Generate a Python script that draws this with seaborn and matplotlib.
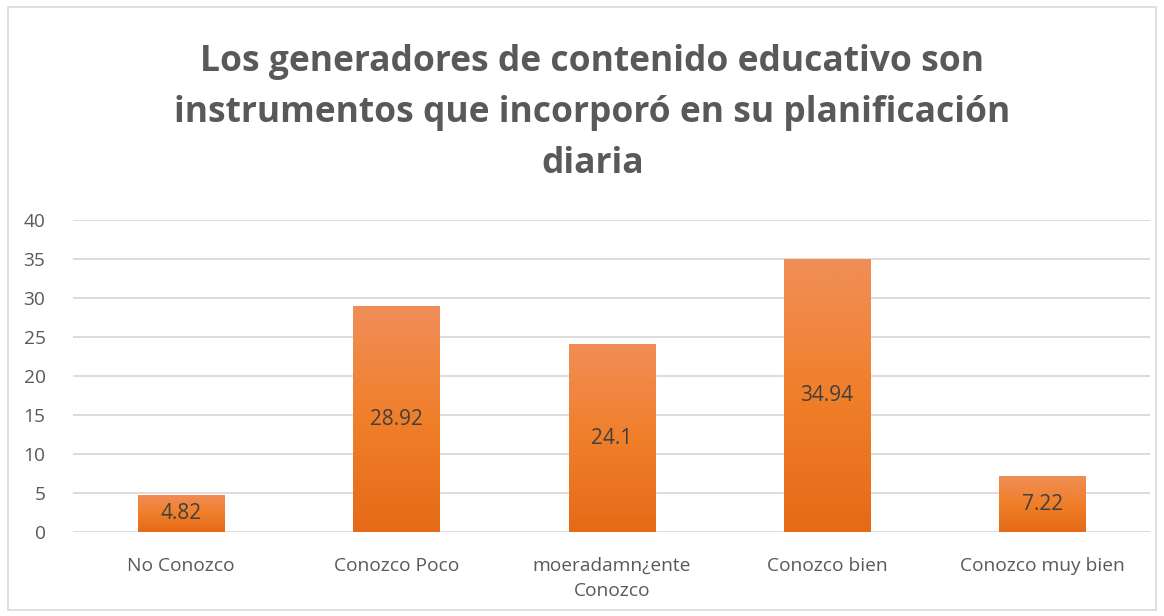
import numpy as np
import pandas as pd
import seaborn as sns
import matplotlib.pyplot as plt
from matplotlib.colors import LinearSegmentedColormap
from matplotlib.patches import Rectangle

categorias = ['No Conozco', 'Conozco Poco', 'moeradamn¿ente\nConozco', 'Conozco bien', 'Conozco muy bien']
valores = [4.82, 28.92, 24.1, 34.94, 7.22]
titulo = 'Los generadores de contenido educativo son\ninstrumentos que incorporó en su planificación\ndiaria'

sns.set_theme(style='white')
plt.rcParams['font.family'] = ['Open Sans', 'DejaVu Sans']

df = pd.DataFrame({'cat': categorias, 'val': valores})

fig = plt.figure(figsize=(11.64, 6.16), dpi=100)
ax = fig.add_axes([0.063, 0.136, 0.925, 0.507])

sns.barplot(data=df, x='cat', y='val', color='#ED7D31', width=0.4, ax=ax, zorder=3)

# gradient fill on each bar
grad = LinearSegmentedColormap.from_list('g', ['#E66A17', '#F07F2A', '#F08E58'])
for p in ax.patches:
    x0, y0 = p.get_x(), p.get_y()
    w, h = p.get_width(), p.get_height()
    im = ax.imshow(np.linspace(0, 1, 256).reshape(-1, 1), cmap=grad, origin='lower',
                   extent=[x0, x0 + w, y0, y0 + h], aspect='auto', zorder=4)
    im.set_clip_path(p)
    p.set_facecolor('none')
    ax.annotate(f'{valores[int(round(x0 + w / 2))]:g}', (x0 + w / 2, h / 2),
                ha='center', va='center', fontsize=15, color='#404040', zorder=5)

ax.set_xlim(-0.5, 4.5)
ax.set_ylim(0, 40)
ax.set_yticks(range(0, 41, 5))
ax.yaxis.grid(True, color='#D9D9D9', linewidth=1.3, zorder=0)
ax.set_axisbelow(True)
for s in ax.spines.values():
    s.set_visible(False)
ax.set_xlabel('')
ax.set_ylabel('')
ax.tick_params(axis='both', length=0, labelsize=13.8, labelcolor='#595959')
ax.tick_params(axis='y', pad=20)
ax.tick_params(axis='x', pad=18)
for t in ax.get_xticklabels():
    t.set_linespacing(1.5)

fig.text(0.509, 0.817, titulo, ha='center', va='center', fontsize=25.5, fontweight='bold',
         color='#595959', linespacing=1.55)

fig.patches.append(Rectangle((0.007, 0.01), 0.986, 0.978, transform=fig.transFigure,
                             fill=False, edgecolor='#D9D9D9', linewidth=1.2))

fig.savefig('out.png', dpi=100)
